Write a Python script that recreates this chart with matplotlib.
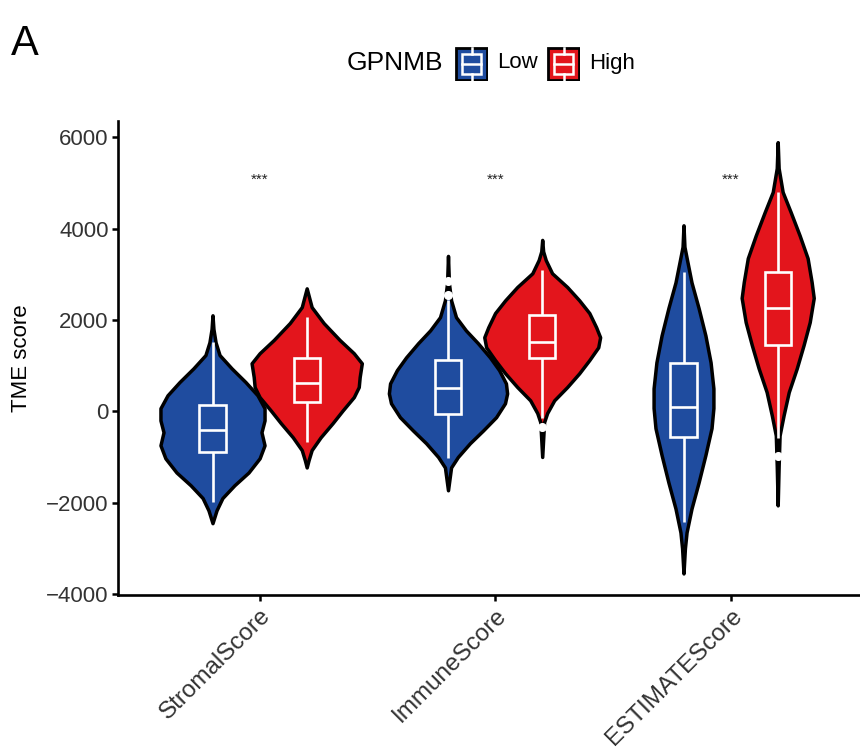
import matplotlib
matplotlib.use("Agg")
import matplotlib.pyplot as plt
from matplotlib.patches import Rectangle
import numpy as np

plt.rcParams['font.family'] = ['Liberation Sans', 'DejaVu Sans']

# ---- data -------------------------------------------------------------
categories = ["StromalScore", "ImmuneScore", "ESTIMATEScore"]
groups = ["Low", "High"]
group_colors = {"Low": "#1F4C9F", "High": "#E3151C"}
signif = ["***", "***", "***"]
signif_y = 5060

# violin density profiles: score levels and half-widths (category units)
stromal_low_y = [2100, 1800, 1510, 1230, 940, 640, 350, 66, -200, -460, -745, -1030, -1340, -1620, -1900, -2170, -2450]
stromal_low_w = [0, .004, .013, .030, .081, .140, .191, .221, .221, .208, .221, .200, .153, .093, .042, .017, 0]
stromal_high_y = [2690, 2280, 1930, 1560, 1270, 1050, 750, 530, 310, 20, -260, -570, -850, -1070, -1230]
stromal_high_w = [0, .021, .072, .140, .200, .234, .225, .221, .200, .153, .110, .059, .021, .008, 0]
immune_low_y = [3400, 2800, 2430, 2060, 1770, 1490, 1180, 900, 610, 390, 175, -130, -420, -700, -1000, -1230, -1730]
immune_low_w = [0, .004, .013, .034, .076, .127, .178, .217, .246, .251, .242, .204, .149, .093, .042, .013, 0]
immune_high_y = [3750, 3500, 3310, 3020, 2720, 2430, 2150, 1840, 1620, 1400, 1120, 830, 530, 240, -40, -240, -1000]
immune_high_w = [0, .004, .015, .042, .106, .157, .200, .229, .246, .238, .200, .157, .106, .051, .021, .008, 0]
estimate_low_y = [4070, 3600, 3260, 2820, 2260, 1660, 1070, 500, 70, -370, -960, -1560, -2130, -2650, -3000, -3550]
estimate_low_w = [0, .004, .017, .034, .064, .093, .115, .127, .127, .119, .093, .064, .034, .013, .006, 0]
estimate_high_y = [5890, 5320, 4800, 4360, 3850, 3350, 2830, 2480, 1950, 1450, 940, 420, -90, -530, -1200, -2060]
estimate_high_w = [0, .004, .021, .055, .093, .127, .144, .153, .136, .110, .081, .047, .025, .008, .004, 0]

violins = {
    ("StromalScore", "Low"): (stromal_low_y, stromal_low_w),
    ("StromalScore", "High"): (stromal_high_y, stromal_high_w),
    ("ImmuneScore", "Low"): (immune_low_y, immune_low_w),
    ("ImmuneScore", "High"): (immune_high_y, immune_high_w),
    ("ESTIMATEScore", "Low"): (estimate_low_y, estimate_low_w),
    ("ESTIMATEScore", "High"): (estimate_high_y, estimate_high_w),
}

# boxplot statistics per category
low_whislo = [-1990, -1030, -2430]
low_q1 = [-900, -50, -570]
low_med = [-420, 500, 90]
low_q3 = [130, 1120, 1050]
low_whishi = [1510, 2430, 3040]
low_outliers = [[], [2540, 2850], []]

high_whislo = [-680, -150, -590]
high_q1 = [200, 1160, 1450]
high_med = [610, 1510, 2250]
high_q3 = [1160, 2100, 3040]
high_whishi = [2060, 3090, 4800]
high_outliers = [[], [-340], [-990]]

box_stats = {
    "Low": (low_whislo, low_q1, low_med, low_q3, low_whishi, low_outliers),
    "High": (high_whislo, high_q1, high_med, high_q3, high_whishi, high_outliers),
}

# ---- figure -----------------------------------------------------------
fig = plt.figure(figsize=(8.6, 7.55), dpi=100)
ax = fig.add_axes([118.3 / 860, 160 / 755, (871.9 - 118.3) / 860, 474.4 / 755])

dodge = {"Low": -0.2, "High": 0.2}
box_half = 0.056
outline_lw = 2.5
white_lw = 1.9

# violins first
for ci, cat in enumerate(categories):
    for g in groups:
        y, w = violins[(cat, g)]
        y = np.asarray(y, float)
        w = np.asarray(w, float)
        xc = ci + 1 + dodge[g]
        ax.fill_betweenx(y, xc - w, xc + w, facecolor=group_colors[g],
                         edgecolor="black", linewidth=outline_lw, zorder=2)

# boxplots on top
for g in groups:
    wlo, q1, med, q3, whi, outl = box_stats[g]
    for ci in range(len(categories)):
        xc = ci + 1 + dodge[g]
        ax.plot([xc, xc], [q3[ci], whi[ci]], color="white", lw=white_lw,
                solid_capstyle="butt", zorder=3)
        ax.plot([xc, xc], [wlo[ci], q1[ci]], color="white", lw=white_lw,
                solid_capstyle="butt", zorder=3)
        ax.add_patch(Rectangle((xc - box_half, q1[ci]), 2 * box_half, q3[ci] - q1[ci],
                               facecolor="none", edgecolor="white", lw=white_lw, zorder=3))
        ax.plot([xc - box_half, xc + box_half], [med[ci], med[ci]], color="white",
                lw=white_lw, solid_capstyle="butt", zorder=3)
        if outl[ci]:
            ax.plot([xc] * len(outl[ci]), outl[ci], linestyle="none", marker="o",
                    markersize=5.5, markerfacecolor="white", markeredgecolor="white", zorder=4)

for ci, s in enumerate(signif):
    ax.text(ci + 1, signif_y, s, ha="center", va="center", fontsize=11, color="#222222")

ax.set_xlim(0.4, 3.6)
ax.set_ylim(-4022, 6362)
ax.set_xticks(range(1, len(categories) + 1))
ax.set_xticklabels(categories, rotation=45, ha="right", va="top", rotation_mode="anchor")
ax.set_yticks([-4000, -2000, 0, 2000, 4000, 6000])
ax.set_yticklabels(["\u22124000", "\u22122000", "0", "2000", "4000", "6000"])
ax.tick_params(axis="both", labelsize=16, labelcolor="#333333", length=4, width=1.8,
               color="black", pad=3)
ax.tick_params(axis="x", labelsize=17.5)
ax.set_ylabel("TME score", fontsize=16, labelpad=10)
for side in ("top", "right"):
    ax.spines[side].set_visible(False)
for side in ("left", "bottom"):
    ax.spines[side].set_linewidth(1.9)

# panel tag
fig.text(11 / 860, 1 - 55 / 755, "A", fontsize=30, va="baseline", ha="left")

# legend
fig.text(347 / 860, 1 - 63 / 755, "GPNMB", fontsize=19, va="center", ha="left")
key_pos = {"Low": 455, "High": 547}
for g in groups:
    kx = key_pos[g]
    kax = fig.add_axes([kx / 860, 1 - 81 / 755, 33 / 860, 34 / 755])
    kax.set_xlim(0, 1)
    kax.set_ylim(0, 1)
    kax.axis("off")
    kax.add_patch(Rectangle((0.03, 0.03), 0.94, 0.94, facecolor=group_colors[g],
                            edgecolor="black", lw=2.0))
    kax.add_patch(Rectangle((0.2, 0.2), 0.6, 0.6, facecolor="none", edgecolor="white", lw=1.8))
    kax.plot([0.2, 0.8], [0.5, 0.5], color="white", lw=1.8)
    kax.plot([0.5, 0.5], [0.8, 0.97], color="white", lw=1.8)
    kax.plot([0.5, 0.5], [0.03, 0.2], color="white", lw=1.8)
    fig.text((kx + 42) / 860, 1 - 63 / 755, g, fontsize=16, va="center", ha="left")

fig.savefig("out.png", dpi=100)
